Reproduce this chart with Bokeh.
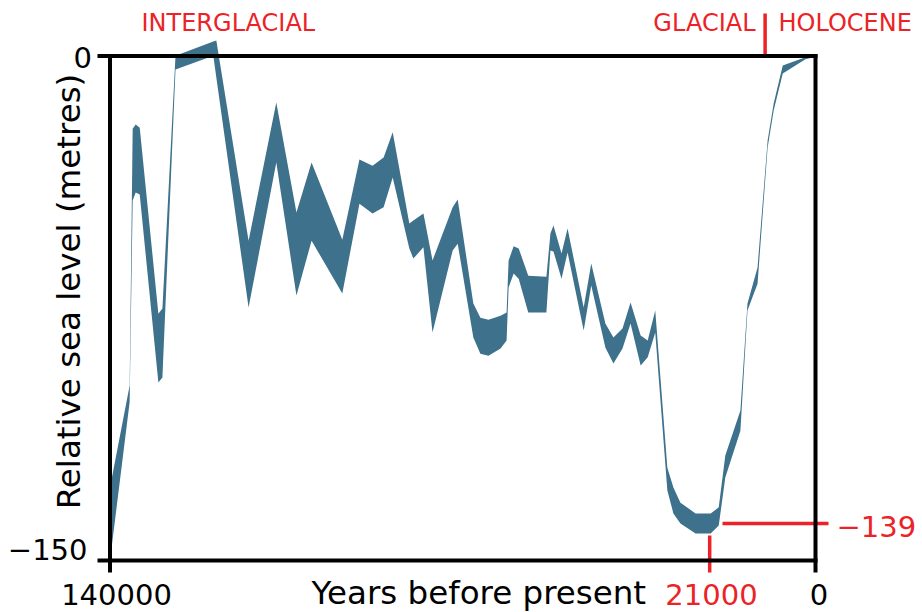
import numpy as np
from bokeh.plotting import figure
from bokeh.models import Range1d
from bokeh.core.properties import value
from bokeh.embed import file_html
from bokeh.resources import INLINE

# ---------------- data (years before present, metres) ----------------
years = [140000, 136100, 135500, 134900, 134100, 130400, 129600, 127000, 119500,
         118900, 112500, 107000, 103000, 100000, 93900, 90500, 87900, 85700, 83900,
         80600, 79800, 77800, 76000, 72000, 71000, 67900, 66500, 64900, 62500, 61300,
         60900, 59900, 58900, 57000, 53400, 52600, 52000, 50400, 49200, 46000, 44500,
         41700, 40100, 38300, 36700, 34700, 33300, 31800, 29400, 28200, 26800, 23800,
         20800, 19200, 17900, 14900, 13500, 11500, 9500, 8300, 6500, 2000, 0]
upper = [-128.3, -98.0, -21.6, -20.4, -21.3, -76.6, -75.1, 0.1, 4.3,
         4.6, -54.9, -13.8, -46.5, -31.7, -54.6, -30.8, -32.6, -30.2, -22.7,
         -49.8, -48.9, -46.8, -60.8, -45.0, -42.7, -73.6, -77.8, -78.4, -77.2, -76.3,
         -60.8, -56.6, -57.2, -65.3, -65.6, -52.8, -50.4, -58.7, -51.3, -74.8, -61.7,
         -79.5, -83.7, -81.0, -73.3, -83.1, -84.6, -75.7, -122.4, -128.3, -132.8, -136.0,
         -136.0, -134.2, -118.8, -105.4, -73.6, -62.9, -25.1, -14.1, -2.8, -0.4, 0.3]
lower = [-150.0, -102.9, -43.0, -40.6, -41.2, -97.1, -95.6, -4.0, 0.1,
         -6.4, -74.8, -31.7, -71.2, -54.9, -70.6, -43.9, -46.8, -45.0, -36.1,
         -57.2, -60.2, -56.9, -82.2, -57.8, -55.8, -83.7, -88.5, -89.1, -87.0, -84.6,
         -68.8, -64.7, -66.2, -76.3, -76.3, -57.8, -58.1, -66.2, -58.4, -81.6, -68.2,
         -86.7, -91.4, -87.0, -79.5, -92.0, -89.6, -82.2, -129.2, -136.0, -139.0, -142.0,
         -142.0, -139.6, -125.3, -111.4, -75.7, -67.7, -27.2, -16.2, -5.2, -1.0, -0.2]

x_ticks = [140000, 21000, 0]
x_tick_labels = ["140000", "21000", "0"]
y_ticks = [0, -150]
y_tick_labels = ["0", "\u2212150"]
lgm_year = 21000
lgm_level = -139
lgm_label = "\u2212139"
holocene_start = 10000
x_title = "Years before present"
y_title = "Relative sea level (metres)"
top_left_label = "INTERGLACIAL"
top_mid_label = "GLACIAL"
top_right_label = "HOLOCENE"

# ---------------- layout helpers (picture pixel -> data) ----------------
W, H = 922, 612
X0_PX, X1_PX = 109.5, 815.0   # pixel of 140000 and 0
Y0_PX, Y1_PX = 55.5, 560.0    # pixel of 0 and -150
BASE_SHIFT = 0.39             # baseline correction (fraction of font size)


def X(px):
    return (X1_PX - px) * 140000 / (X1_PX - X0_PX)


def Y(py):
    return -(py - Y0_PX) * 150 / (Y1_PX - Y0_PX)


def TY(py, size):
    return Y(py - BASE_SHIFT * size)


BAND = "#3d718c"
RED = "#ec2227"
FONT = value("DejaVu Sans")

p = figure(width=W, height=H, output_backend="svg", toolbar_location=None,
           x_axis_location=None, y_axis_location=None,
           x_range=Range1d(X(0), X(W)), y_range=Range1d(Y(H), Y(0)),
           min_border=0, min_border_left=0, min_border_right=0,
           min_border_top=0, min_border_bottom=0)
p.outline_line_color = None
p.grid.visible = False
p.background_fill_color = "white"
p.border_fill_color = "white"

# band
p.varea(x=years, y1=lower, y2=upper, fill_color=BAND, fill_alpha=1.0)

# red markers (drawn below the black frame)
p.segment(x0=[lgm_year], y0=[Y(535)], x1=[lgm_year], y1=[Y(572)],
          line_color=RED, line_width=3.5)
p.segment(x0=[X(722)], y0=[lgm_level], x1=[X(828)], y1=[lgm_level],
          line_color=RED, line_width=3.5)
p.segment(x0=[holocene_start], y0=[Y(13)], x1=[holocene_start], y1=[0],
          line_color=RED, line_width=3.5)

# black frame with outward ticks
xl, xr = x_ticks[0], x_ticks[-1]
yt, yb = y_ticks[0], y_ticks[-1]
p.segment(x0=[X(99), X(99), xl, xr], y0=[yt, yb, Y(570), Y(570)],
          x1=[xr, xr, xl, xr], y1=[yt, yb, yt, yt],
          line_color="black", line_width=4, line_cap="square")

# tick labels
TS = 29
p.text(x=[X(91.5)], y=[TY(68, TS)], text=[y_tick_labels[0]], text_font=FONT,
       text_font_size=f"{TS}px", text_color="black", text_align="right",
       text_baseline="alphabetic")
p.text(x=[X(87)], y=[TY(560, TS)], text=[y_tick_labels[1]], text_font=FONT,
       text_font_size=f"{TS}px", text_color="black", text_align="right",
       text_baseline="alphabetic")
p.text(x=[X(116), X(711), X(818.5)], y=[TY(605, TS)] * 3, text=x_tick_labels,
       text_font=FONT, text_font_size=f"{TS}px",
       text_color=["black", RED, "black"], text_align="center",
       text_baseline="alphabetic")
p.text(x=[X(836)], y=[TY(537, TS)], text=[lgm_label], text_font=FONT,
       text_font_size=f"{TS}px", text_color=RED, text_align="left",
       text_baseline="alphabetic")

# axis titles
AS = 32.5
p.text(x=[X(311)], y=[TY(605, AS)], text=[x_title], text_font=FONT,
       text_font_size=f"{AS}px", text_color="black", text_align="left",
       text_baseline="alphabetic")
p.text(x=[X(81 - BASE_SHIFT * AS)], y=[Y(291)], text=[y_title], text_font=FONT,
       text_font_size=f"{AS}px", text_color="black", text_align="center",
       text_baseline="alphabetic", angle=np.pi / 2)

# period labels
LS = 24
p.text(x=[X(141), X(755), X(778)], y=[TY(32, LS)] * 3,
       text=[top_left_label, top_mid_label, top_right_label], text_font=FONT,
       text_font_size=f"{LS}px", text_color=RED,
       text_align=["left", "right", "left"], text_baseline="alphabetic")

open("out.html", "w").write(file_html(p, INLINE))
